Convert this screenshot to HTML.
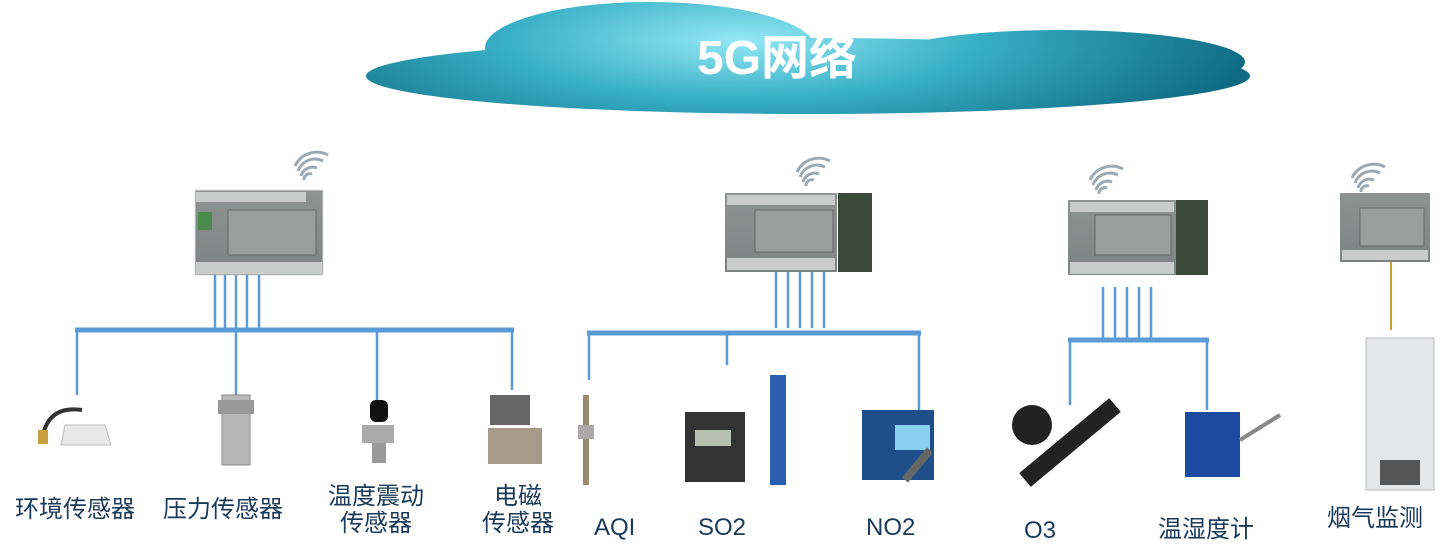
<!DOCTYPE html>
<html><head><meta charset="utf-8"><style>
html,body{margin:0;padding:0;background:#fff;width:1445px;height:553px;overflow:hidden}
.t{position:absolute;font-family:"Liberation Sans","Noto Sans CJK SC",sans-serif;color:#1a3a5a;font-size:24px;white-space:nowrap;text-align:center;line-height:27px}
</style></head><body>
<svg width="1445" height="553" style="position:absolute;left:0;top:0">
<defs>
<radialGradient id="cg" gradientUnits="userSpaceOnUse" cx="740" cy="40" r="520" gradientTransform="translate(740 40) scale(1 0.25) translate(-740 -40)">
<stop offset="0" stop-color="#95e8f4"/><stop offset="0.45" stop-color="#38b0c6"/><stop offset="1" stop-color="#0f6a82"/></radialGradient>
<linearGradient id="pl" x1="0" y1="0" x2="0" y2="1"><stop offset="0" stop-color="#8e9392"/><stop offset="1" stop-color="#7d8382"/></linearGradient>
<g id="wifi" fill="none" stroke="#9aa9b3" stroke-width="3">
<path d="M6 26 a6 6 0 0 1 8 -6"/><path d="M3 22 a12 12 0 0 1 16 -8"/><path d="M0 17 a18 18 0 0 1 25 -10"/><path d="M-3 12 a24 24 0 0 1 33 -11"/></g>
</defs>
<!-- cloud -->
<g fill="url(#cg)">
<ellipse cx="808" cy="76" rx="442" ry="38"/>
<ellipse cx="650" cy="48" rx="165" ry="46"/>
<ellipse cx="1060" cy="62" rx="185" ry="32"/>
</g>
<!-- PLCs -->
<g>
<rect x="195" y="190" width="128" height="85" fill="url(#pl)" stroke="#ddd"/>
<rect x="228" y="210" width="88" height="45" fill="#9a9f9e" stroke="#666"/>
<rect x="198" y="212" width="14" height="18" fill="#4a8a4a"/>
<rect x="196" y="262" width="126" height="12" fill="#c9cccb"/>
<rect x="196" y="192" width="110" height="10" fill="#c9cccb"/>
<rect x="725" y="193" width="112" height="79" fill="url(#pl)"/>
<rect x="838" y="193" width="34" height="79" fill="#3a4a3a"/>
<rect x="755" y="210" width="78" height="42" fill="#9a9f9e" stroke="#666"/>
<rect x="727" y="258" width="108" height="12" fill="#c9cccb"/>
<rect x="727" y="195" width="108" height="10" fill="#c9cccb"/>
<rect x="1068" y="200" width="108" height="75" fill="url(#pl)"/>
<rect x="1176" y="200" width="32" height="75" fill="#3a4a3a"/>
<rect x="1095" y="215" width="76" height="40" fill="#9a9f9e" stroke="#666"/>
<rect x="1070" y="262" width="104" height="12" fill="#c9cccb"/>
<rect x="1070" y="202" width="104" height="10" fill="#c9cccb"/>
<rect x="1340" y="193" width="90" height="69" fill="url(#pl)"/>
<rect x="1360" y="208" width="64" height="38" fill="#9a9f9e" stroke="#666"/>
<rect x="1342" y="250" width="86" height="10" fill="#c9cccb"/>
</g>
<use href="#wifi" x="298" y="154"/><use href="#wifi" x="800" y="160"/><use href="#wifi" x="1093" y="168"/><use href="#wifi" x="1355" y="166"/>
<!-- connectors -->
<g stroke="#5b9bd5" stroke-width="2.5">
<path d="M215 275V328M225 275V328M236 275V328M247 275V328M259 275V328"/>
<path d="M77 330V395M236 330V400M377 330V400M512 330V390"/>
<path d="M776 272V328M788 272V328M800 272V328M812 272V328M824 272V328"/>
<path d="M589 332V380M727 332V365M919 332V410"/>
<path d="M1103 287V338M1115 287V338M1127 287V338M1139 287V338M1151 287V338"/>
<path d="M1070 340V405M1207 340V410"/>
</g>
<g stroke="#5b9bd5" stroke-width="5">
<path d="M75 330H514M587 333H921M1068 340H1209"/></g>
<path d="M1391 262V330" stroke="#c8a030" stroke-width="2"/>
<!-- devices -->
<g>
<path d="M42 440q5-35 40-30" fill="none" stroke="#333" stroke-width="4"/>
<rect x="38" y="430" width="10" height="14" fill="#c9a040"/>
<path d="M65 425h40l6 20h-50z" fill="#e8e8e8" stroke="#bbb"/>
<rect x="222" y="395" width="28" height="70" fill="#b8b8b8" stroke="#888"/>
<rect x="218" y="400" width="36" height="14" fill="#999"/>
<rect x="370" y="400" width="18" height="22" rx="6" fill="#111"/>
<rect x="362" y="425" width="32" height="18" fill="#aaa"/>
<rect x="372" y="443" width="14" height="20" fill="#999"/>
<rect x="490" y="395" width="40" height="30" fill="#666"/>
<rect x="488" y="428" width="54" height="36" fill="#a89a88"/>
<rect x="583" y="395" width="6" height="90" fill="#9a8a70"/>
<rect x="578" y="425" width="16" height="14" fill="#aaa"/>
<rect x="685" y="412" width="60" height="70" fill="#333"/>
<rect x="695" y="430" width="36" height="16" fill="#b7c0b0"/>
<rect x="770" y="375" width="16" height="110" fill="#2a5fb0"/>
<rect x="862" y="410" width="72" height="70" fill="#1f4f8a"/>
<rect x="895" y="425" width="35" height="25" fill="#8ad0ef"/>
<path d="M905 480l25-30" stroke="#666" stroke-width="8"/>
<circle cx="1032" cy="425" r="20" fill="#222"/>
<path d="M1025 480l90-75" stroke="#222" stroke-width="18"/>
<rect x="1185" y="412" width="55" height="65" fill="#1c4aa0"/>
<path d="M1240 440l40-25" stroke="#888" stroke-width="4"/>
<rect x="1366" y="338" width="68" height="152" fill="#e4e6e8" stroke="#bbb"/>
<rect x="1380" y="460" width="40" height="25" fill="#555"/>
</g>
</svg>
<div class="t" style="left:697px;top:32px;font-size:48px;line-height:54px;font-weight:bold;color:#fff">5G网络</div>
<div class="t" style="left:15px;top:496px">环境传感器</div>
<div class="t" style="left:163px;top:496px">压力传感器</div>
<div class="t" style="left:328px;top:483px">温度震动<br>传感器</div>
<div class="t" style="left:482px;top:483px">电磁<br>传感器</div>
<div class="t" style="left:594px;top:514px">AQI</div>
<div class="t" style="left:698px;top:514px">SO2</div>
<div class="t" style="left:866px;top:514px">NO2</div>
<div class="t" style="left:1024px;top:517px">O3</div>
<div class="t" style="left:1158px;top:516px">温湿度计</div>
<div class="t" style="left:1327px;top:505px">烟气监测</div>
</body></html>
